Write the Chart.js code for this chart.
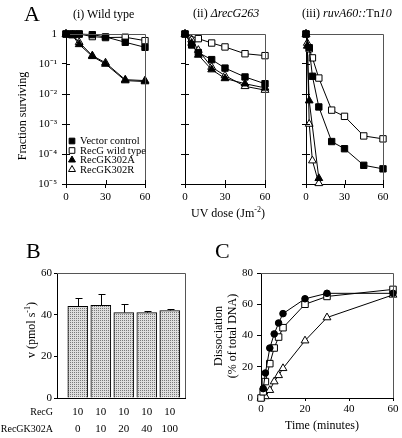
<!DOCTYPE html>
<html>
<head>
<meta charset="utf-8">
<script src="https://cdn.jsdelivr.net/npm/chart.js@4.4.1/dist/chart.umd.min.js"></script>
<style>
    body { margin: 0; width: 402px; height: 438px; position: relative; overflow: hidden; background: #fff;
           font-family: "Liberation Serif", "Times New Roman", serif; color: #000; }
    canvas { position: absolute; left: 0; top: 0; }
    .t { position: absolute; white-space: nowrap; font-size: 12px; line-height: 1; }
    .ctr { position: absolute; white-space: nowrap; font-size: 12px; line-height: 1.2; transform: translate(-50%, -50%); text-align: center; }
    .rot { position: absolute; white-space: nowrap; font-size: 12px; line-height: 1.2; transform: translate(-50%, -50%) rotate(-90deg); text-align: center; }
    .big { font-size: 22px; }
    .row { font-size: 10px; }
</style>
</head>
<body>
<canvas id="chartAi" width="402" height="438"></canvas>
<canvas id="chartAii" width="402" height="438"></canvas>
<canvas id="chartAiii" width="402" height="438"></canvas>
<canvas id="chartB" width="402" height="438"></canvas>
<canvas id="chartC" width="402" height="438"></canvas>

<div class="t big" style="left:24px;top:3px">A</div>
<div class="t" style="left:73px;top:8px">(i) Wild type</div>
<div class="t" style="left:193px;top:7px">(ii) <i>ΔrecG263</i></div>
<div class="t" style="left:302px;top:7px">(iii) <i>ruvA60::</i>Tn<i>10</i></div>
<div class="rot" style="left:22px;top:116px">Fraction surviving</div>
<div class="ctr" style="left:228px;top:213px">UV dose (Jm<sup style="font-size:8px">-2</sup>)</div>

<div class="t big" style="left:26px;top:240px">B</div>
<div class="rot" style="left:31px;top:330px">v (pmol s<sup style="font-size:8px">-1</sup>)</div>
<div class="t row" style="right:349px;top:407px">RecG</div>
<div class="t row" style="right:349px;top:424px">RecGK302A</div>

<div class="t big" style="left:215px;top:240px">C</div>
<div class="rot" style="left:225px;top:336px">Dissociation<br>(% of total DNA)</div>
<div class="ctr" style="left:322px;top:425px">Time (minutes)</div>

<script>
    // ---- Panel A: UV survival ----
    const seriesNames = ["Vector control", "RecG wild type", "RecGK302A", "RecGK302R"];
    const doseTicks = [0, 30, 60];
    const logTicks = [1, 0.1, 0.01, 0.001, 0.0001, 0.00001];
    const logTickLabels = ["1", "10⁻¹", "10⁻²", "10⁻³", "10⁻⁴", "10⁻⁵"];

    // (i) wild type
    const wtDoses = [0, 5, 10, 20, 30, 45, 60];
    const wtVector = [1, 1, 1, 0.95, 0.8, 0.53, 0.36];
    const wtRecG = [1, 1, 1, 0.82, 0.76, 0.78, 0.6];
    const wtK302A = [1, 0.88, 0.45, 0.18, 0.1, 0.028, 0.026];
    const wtK302R = [1, 0.93, 0.53, 0.19, 0.11, 0.03, 0.028];

    // (ii) recG263
    const recgDoses = [0, 5, 10, 20, 30, 45, 60];
    const recgVector = [1, 0.43, 0.24, 0.14, 0.073, 0.037, 0.022];
    const recgRecG = [1, null, 0.7, 0.5, 0.37, 0.22, 0.19];
    const recgK302A = [1, 0.5, 0.2, 0.065, 0.033, 0.022, 0.016];
    const recgK302R = [1, 0.65, 0.29, 0.079, 0.041, 0.018, 0.0135];

    // (iii) ruvA60::Tn10
    const ruvDoses = [0, 1, 2.5, 5, 10, 20, 30, 45, 60];
    const ruvVector = [1, null, 0.35, 0.039, 0.0037, 0.00026, 0.00015, 0.000042, 0.000032];
    const ruvRecG = [1, null, 0.32, 0.16, 0.034, 0.0029, 0.0018, 0.0004, 0.00032];
    const ruvK302A = [1, 0.4, 0.006, null, 0.0000155, null, null, null, null];
    const ruvK302R = [1, 0.5, 0.001, 0.00006, 0.0000105, null, null, null, null];

    // ---- Panel B: unwinding rate ----
    const recgAmounts = ["10", "10", "10", "10", "10"];
    const k302aAmounts = ["0", "10", "20", "40", "100"];
    const rateMeans = [44, 44.5, 41, 41, 42];
    const rateErrors = [4, 5.5, 4, 1, 0.7];
    const rateTicks = [0, 20, 40, 60];

    // ---- Panel C: dissociation time course ----
    const times = [0, 1, 2, 4, 6, 8, 10, 20, 30, 60];
    const dissocRecG = [null, 6, 16, 32, 41, 48, 54, 63.5, 67, 67];
    const dissocMix = [0, 4, 10.5, 22, 32, 39, 45, 60, 65, 69.5];
    const dissocK302A = [0, null, 1, 5, 10.5, 14.5, 19, 36.7, 51.5, 66];
    const timeTicks = [0, 20, 40, 60];
    const dissocTicks = [0, 20, 40, 60, 80];

    Chart.defaults.font.family = '"Liberation Serif", "Times New Roman", serif';
    Chart.defaults.font.size = 11;
    Chart.defaults.color = "#000";

    const markerStyles = [
        { pointStyle: "rect", fill: "#000" },
        { pointStyle: "rect", fill: "#fff" },
        { pointStyle: "triangle", fill: "#000" },
        { pointStyle: "triangle", fill: "#fff" }
    ];

    function toPoints(xs, ys) {
        const pts = [];
        xs.forEach(function (x, i) {
            if (ys[i] !== null) pts.push({ x: x, y: ys[i] });
        });
        return pts;
    }

    function lineSet(label, xs, ys, style, radius) {
        return {
            label: label,
            data: toPoints(xs, ys),
            borderColor: "#000",
            borderWidth: 1,
            pointStyle: style.pointStyle,
            pointRadius: radius,
            pointBackgroundColor: style.fill,
            pointBorderColor: "#000",
            pointBorderWidth: 1,
            tension: 0,
            clip: false
        };
    }

    // fixed plot rectangles, page coordinates
    function layoutFor(area, yw, xh) {
        return { padding: { left: area.l - yw, top: area.t, right: 402 - area.r, bottom: 438 - area.b - xh } };
    }

    const framePlugin = {
        id: "frame",
        afterDraw: function (chart) {
            const a = chart.chartArea, ctx = chart.ctx;
            ctx.save();
            ctx.strokeStyle = "#555";
            ctx.lineWidth = 1;
            ctx.beginPath();
            ctx.moveTo(a.left, a.top + 0.5);
            ctx.lineTo(a.right + 0.5, a.top + 0.5);
            ctx.lineTo(a.right + 0.5, a.bottom);
            ctx.stroke();
            // inner half of tick marks
            if (chart.options.plugins.frame && chart.options.plugins.frame.innerTicks) {
                ctx.strokeStyle = "#000";
                ctx.beginPath();
                chart.scales.y.ticks.forEach(function (t) {
                    const y = Math.round(chart.scales.y.getPixelForValue(t.value)) + 0.5;
                    ctx.moveTo(a.left, y);
                    ctx.lineTo(a.left + 4, y);
                });
                chart.scales.x.ticks.forEach(function (t) {
                    const x = Math.round(chart.scales.x.getPixelForValue(t.value)) + 0.5;
                    ctx.moveTo(x, a.bottom);
                    ctx.lineTo(x, a.bottom - 4);
                });
                ctx.stroke();
            }
            ctx.restore();
        }
    };

    function survivalChart(id, area, datasets, showLabels, extra) {
        return new Chart(document.getElementById(id), {
            type: "line",
            data: { datasets: datasets },
            options: {
                responsive: false,
                animation: false,
                layout: layoutFor(area, showLabels ? 66 : 25, 21),
                plugins: { legend: { display: false }, tooltip: { enabled: false }, frame: { innerTicks: true } },
                scales: {
                    x: {
                        type: "linear", min: 0, max: 60,
                        afterBuildTicks: function (s) { s.ticks = doseTicks.map(function (v) { return { value: v }; }); },
                        afterFit: function (s) { s.height = 21; },
                        grid: { drawOnChartArea: false, tickLength: 4, color: "#000" },
                        border: { color: "#000" },
                        ticks: { padding: 3, maxRotation: 0 }
                    },
                    y: {
                        type: "logarithmic", min: 0.00001, max: 1,
                        afterBuildTicks: function (s) { s.ticks = logTicks.map(function (v) { return { value: v }; }); },
                        afterFit: function (s) { s.width = showLabels ? 66 : 25; },
                        grid: { drawOnChartArea: false, tickLength: 4, color: "#000" },
                        border: { color: "#000" },
                        ticks: {
                            padding: 5,
                            callback: function (v) {
                                if (!showLabels) return "";
                                return logTickLabels[Math.round(-Math.log10(v))];
                            }
                        }
                    }
                }
            },
            plugins: extra ? [framePlugin, extra] : [framePlugin]
        });
    }

    function survivalSets(xs, v, r, a, k) {
        return [
            lineSet(seriesNames[0], xs, v, markerStyles[0], 4.5),
            lineSet(seriesNames[1], xs, r, markerStyles[1], 4.5),
            lineSet(seriesNames[2], xs, a, markerStyles[2], 4.5),
            lineSet(seriesNames[3], xs, k, markerStyles[3], 4.5)
        ];
    }

    const legendPlugin = {
        id: "innerLegend",
        afterDraw: function (chart) {
            const ctx = chart.ctx;
            ctx.save();
            ctx.font = '10.5px "Liberation Serif", "Times New Roman", serif';
            ctx.textBaseline = "middle";
            seriesNames.forEach(function (name, i) {
                const y = 141 + i * 9.5;
                ctx.fillStyle = markerStyles[i].fill;
                ctx.strokeStyle = "#000";
                ctx.lineWidth = 1;
                Chart.helpers.drawPoint(ctx, { pointStyle: markerStyles[i].pointStyle, radius: 4, rotation: 0, borderWidth: 1 }, 72, y);
                ctx.fillStyle = "#000";
                ctx.fillText(name, 80, y + 0.5);
            });
            ctx.restore();
        }
    };

    survivalChart("chartAi", { l: 66, t: 34, r: 145, b: 184 },
        survivalSets(wtDoses, wtVector, wtRecG, wtK302A, wtK302R), true, legendPlugin);

    survivalChart("chartAii", { l: 185, t: 34, r: 265, b: 184 },
        survivalSets(recgDoses, recgVector, recgRecG, recgK302A, recgK302R), false);

    survivalChart("chartAiii", { l: 306, t: 34, r: 383, b: 184 },
        survivalSets(ruvDoses, ruvVector, ruvRecG, ruvK302A, ruvK302R), false);

    // ---- B ----
    const pat = document.createElement("canvas");
    pat.width = 2; pat.height = 2;
    const pctx = pat.getContext("2d");
    pctx.fillStyle = "#dedede"; pctx.fillRect(0, 0, 2, 2);
    pctx.fillStyle = "#7a7a7a"; pctx.fillRect(0, 0, 1, 1);
    const barFill = pctx.createPattern(pat, "repeat");

    const errorBarPlugin = {
        id: "errorBars",
        afterDatasetsDraw: function (chart) {
            const ctx = chart.ctx, xs = chart.scales.x, ys = chart.scales.y;
            ctx.save();
            ctx.strokeStyle = "#000";
            ctx.lineWidth = 1;
            ctx.beginPath();
            rateMeans.forEach(function (m, i) {
                const x = Math.round(xs.getPixelForValue(i)) + 0.5;
                const y0 = ys.getPixelForValue(m);
                const y1 = Math.round(ys.getPixelForValue(m + rateErrors[i])) + 0.5;
                ctx.moveTo(x, y0);
                ctx.lineTo(x, y1);
                ctx.moveTo(x - 3, y1);
                ctx.lineTo(x + 4, y1);
            });
            ctx.stroke();
            ctx.restore();
        }
    };

    new Chart(document.getElementById("chartB"), {
        type: "bar",
        data: {
            datasets: [{
                data: rateMeans.map(function (m, i) { return { x: i, y: m }; }),
                backgroundColor: barFill,
                borderColor: "#000",
                borderWidth: 1,
                barThickness: 20,
                clip: 0
            }]
        },
        options: {
            responsive: false,
            animation: false,
            layout: layoutFor({ l: 57, t: 273, r: 185, b: 398 }, 57, 40),
            plugins: { legend: { display: false }, tooltip: { enabled: false } },
            scales: {
                x: {
                    type: "linear", min: -0.348, max: 4.104,
                    afterBuildTicks: function (s) { s.ticks = recgAmounts.map(function (v, i) { return { value: i }; }); },
                    afterFit: function (s) { s.height = 40; },
                    grid: { display: false, drawTicks: false },
                    border: { color: "#000" },
                    ticks: {
                        padding: 6, maxRotation: 0, autoSkip: false,
                        font: { size: 11, lineHeight: 1.5 },
                        callback: function (v) { return [recgAmounts[v], k302aAmounts[v]]; }
                    }
                },
                y: {
                    min: 0, max: 60,
                    afterBuildTicks: function (s) { s.ticks = rateTicks.map(function (v) { return { value: v }; }); },
                    afterFit: function (s) { s.width = 57; },
                    grid: { drawOnChartArea: false, tickLength: 3, color: "#000" },
                    border: { color: "#000" },
                    ticks: { padding: 2 }
                }
            }
        },
        plugins: [framePlugin, errorBarPlugin]
    });

    // ---- C ----
    new Chart(document.getElementById("chartC"), {
        type: "line",
        data: {
            datasets: [
                lineSet("RecG", times, dissocRecG, { pointStyle: "circle", fill: "#000" }, 3.3),
                lineSet("RecG + RecGK302A", times, dissocMix, { pointStyle: "rect", fill: "#fff" }, 4.6),
                lineSet("RecGK302A", times, dissocK302A, { pointStyle: "triangle", fill: "#fff" }, 4.5)
            ]
        },
        options: {
            responsive: false,
            animation: false,
            layout: layoutFor({ l: 261, t: 273, r: 393, b: 398 }, 26, 24),
            plugins: { legend: { display: false }, tooltip: { enabled: false } },
            scales: {
                x: {
                    type: "linear", min: 0, max: 60,
                    afterBuildTicks: function (s) { s.ticks = timeTicks.map(function (v) { return { value: v }; }); },
                    afterFit: function (s) { s.height = 24; },
                    grid: { drawOnChartArea: false, tickLength: 3, color: "#000" },
                    border: { color: "#000" },
                    ticks: { padding: 2, maxRotation: 0 }
                },
                y: {
                    min: 0, max: 80,
                    afterBuildTicks: function (s) { s.ticks = dissocTicks.map(function (v) { return { value: v }; }); },
                    afterFit: function (s) { s.width = 26; },
                    grid: { drawOnChartArea: false, tickLength: 4, color: "#000" },
                    border: { color: "#000" },
                    ticks: { padding: 4 }
                }
            }
        },
        plugins: [framePlugin]
    });
</script>
</body>
</html>
